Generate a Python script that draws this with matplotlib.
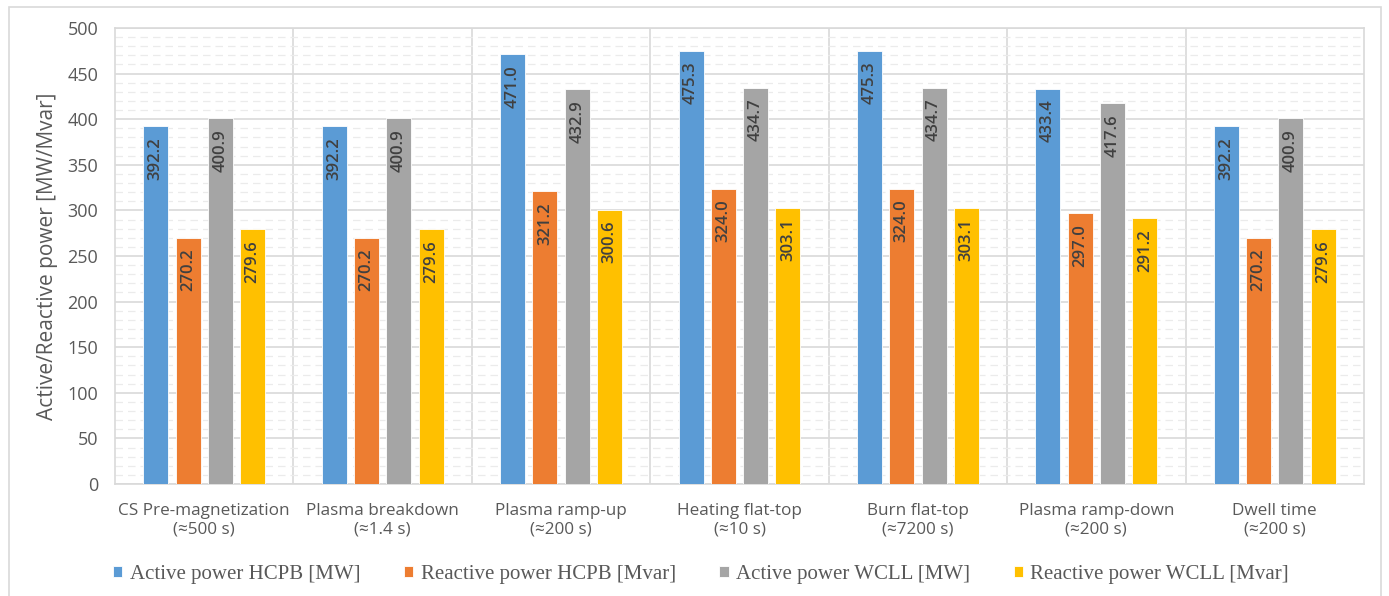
import numpy as np
import matplotlib
matplotlib.use('Agg')
import matplotlib.pyplot as plt
from matplotlib.patches import Rectangle

plt.rcParams['font.family'] = ['Open Sans', 'DejaVu Sans']

# datos
fases = ['CS Pre-magnetization\n(≈500 s)', 'Plasma breakdown\n(≈1.4 s)', 'Plasma ramp-up\n(≈200 s)',
         'Heating flat-top\n(≈10 s)', 'Burn flat-top\n(≈7200 s)', 'Plasma ramp-down\n(≈200 s)',
         'Dwell time\n(≈200 s)']
p_hcpb = [392.2, 392.2, 471.0, 475.3, 475.3, 433.4, 392.2]
q_hcpb = [270.2, 270.2, 321.2, 324.0, 324.0, 297.0, 270.2]
p_wcll = [400.9, 400.9, 432.9, 434.7, 434.7, 417.6, 400.9]
q_wcll = [279.6, 279.6, 300.6, 303.1, 303.1, 291.2, 279.6]
nombres = ['Active power HCPB [MW]', 'Reactive power HCPB [Mvar]',
           'Active power WCLL [MW]', 'Reactive power WCLL [Mvar]']
colores = ['#5B9BD5', '#ED7D31', '#A5A5A5', '#FFC000']

fig = plt.figure(figsize=(13.89, 5.96), dpi=100)
ax = fig.add_axes([115/1389, 1-484/596, (1364-115)/1389, (484-28)/596])

# borde exterior del grafico
fig.patches.append(Rectangle((9/1389, -0.02), (1381-9)/1389, 1.02-7/596, transform=fig.transFigure,
                             fill=False, edgecolor='#D9D9D9', linewidth=1.2, clip_on=False))

x = np.arange(len(fases))
ancho = 0.14
paso = 0.181
series = [p_hcpb, q_hcpb, p_wcll, q_wcll]
for k, (vals, col, nom) in enumerate(zip(series, colores, nombres)):
    pos = x + (k - 1.5) * paso
    ax.bar(pos, vals, ancho, color=col, edgecolor='white', linewidth=0.6, label=nom, zorder=3)
    for xi, v in zip(pos, vals):
        ax.annotate('%.1f' % v, (xi, v), xytext=(0, -8), textcoords='offset points',
                    rotation=90, ha='center', va='top', fontsize=12, fontweight='semibold',
                    color='#404040', zorder=4)

ax.set_xlim(-0.5, len(fases) - 0.5)
ax.set_ylim(0, 500)
ax.set_yticks(np.arange(0, 501, 50))
ax.set_yticks(np.arange(0, 501, 10), minor=True)
ax.set_xticks(x)
ax.set_xticklabels(fases, fontsize=12.3, color='#595959')
ax.tick_params(axis='y', labelsize=13, colors='#595959', length=0, pad=12)
ax.tick_params(axis='x', length=0, pad=14)
ax.tick_params(which='minor', length=0)

ax.grid(axis='y', which='major', color='#D9D9D9', linewidth=1.2, zorder=0)
ax.grid(axis='y', which='minor', color='#EBEBEB', linewidth=0.9, linestyle=(0, (6, 4)), zorder=0)
for b in np.arange(0.5, len(fases) - 0.5, 1):
    ax.axvline(b, color='#D9D9D9', linewidth=1.2, zorder=1)
for s in ax.spines.values():
    s.set_color('#D9D9D9')
    s.set_linewidth(1.2)

ax.set_ylabel('Active/Reactive power [MW/Mvar]', fontsize=15, color='#595959', va='center')
ax.yaxis.set_label_coords(-0.054, 0.5)

fig.legend(loc='center', bbox_to_anchor=(0.5047, 0.036), ncol=4, frameon=False,
           prop={'family': 'Liberation Serif', 'size': 15}, labelcolor='#595959',
           handlelength=0.45, handleheight=0.45, handletextpad=0.35, columnspacing=2.1)

fig.savefig('out.png', dpi=100)
